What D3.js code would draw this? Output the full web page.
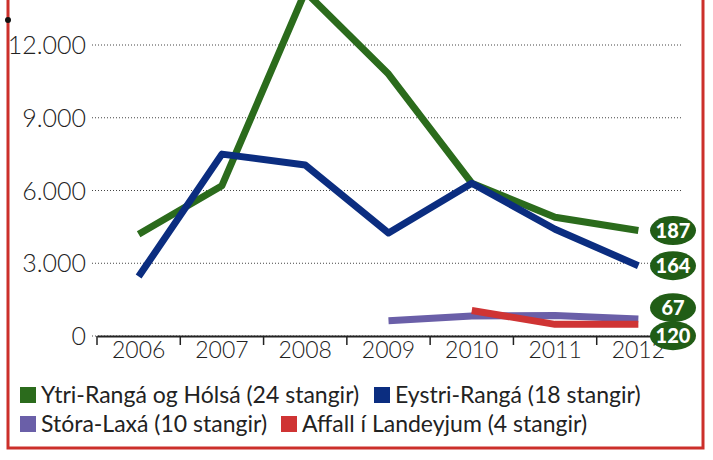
<!DOCTYPE html>
<html>
<head>
<meta charset="utf-8">
<script src="https://cdn.jsdelivr.net/npm/d3@7"></script>
<style>
  body { margin: 0; background: #fff; }
  .ytick { font-family: Lato, sans-serif; font-weight: 300; font-size: 25px; fill: #222; }
  .xtick { font-family: Lato, sans-serif; font-weight: 300; font-size: 23px; fill: #222; }
  .legend text { font-family: Lato, sans-serif; font-size: 23px; fill: #222; }
  .badge text { font-family: Lato, sans-serif; font-weight: 900; font-size: 20px; fill: #fff; }
</style>
</head>
<body>
<div id="chart"></div>
<script>
// years on the x axis
const years = [2006, 2007, 2008, 2009, 2010, 2011, 2012];
// y axis tick values
const yTicks = [0, 3000, 6000, 9000, 12000];

// catch per river (null = no data)
const ytriRanga   = [4200, 6200, 14200, 10800, 6300, 4900, 4350];
const eystriRanga = [2450, 7500, 7050, 4250, 6300, 4400, 2900];
const storaLaxa   = [null, null, null, 630, 820, 850, 700];
const affall      = [null, null, null, null, 1050, 480, 480];

const seriesNames = [
    "Ytri-Rangá og Hólsá (24 stangir)",
    "Eystri-Rangá (18 stangir)",
    "Stóra-Laxá (10 stangir)",
    "Affall í Landeyjum (4 stangir)"
];
const seriesColors = ["#2b6b1c", "#0b2d80", "#6a5fa8", "#cf3434"];
const badgeLabels = ["187", "164", "67", "120"];

const seriesValues = [ytriRanga, eystriRanga, storaLaxa, affall];

const W = 713, H = 460;

let svg = d3.select("#chart")
    .append("svg")
    .attr("width", W)
    .attr("height", H);

// red frame, top edge is cropped off
svg.append("rect")
    .attr("x", 8).attr("y", -20)
    .attr("width", 695).attr("height", 468)
    .attr("fill", "none")
    .attr("stroke", "#cc2f2a")
    .attr("stroke-width", 3);
svg.append("circle").attr("cx", 8).attr("cy", 20).attr("r", 3).attr("fill", "#111");

// scales
const x = d3.scaleBand().domain(years).range([97, 680]).padding(0);
const y = d3.scaleLinear().domain([0, 12000]).range([336, 45]);

// dotted gridlines
svg.append("g")
    .selectAll("line")
    .data(yTicks)
    .enter().append("line")
    .attr("x1", 92).attr("x2", 681)
    .attr("y1", d => y(d)).attr("y2", d => y(d))
    .attr("stroke", "#444")
    .attr("stroke-width", 1)
    .attr("stroke-dasharray", "1,2");

// y labels
svg.append("g")
    .selectAll("text")
    .data(yTicks)
    .enter().append("text")
    .attr("class", "ytick")
    .attr("x", 86)
    .attr("y", d => y(d) + 9)
    .attr("text-anchor", "end")
    .text(d => d3.format(",")(d).replace(/,/g, "."));

// x axis: labels centred in band, ticks at band edges
const xAxis = svg.append("g")
    .attr("transform", `translate(0, ${y(0)})`)
    .call(d3.axisBottom(x).tickSize(0).tickPadding(0));
xAxis.select(".domain").attr("stroke", "#222").attr("stroke-width", 2);
xAxis.selectAll(".tick text")
    .attr("class", "xtick")
    .attr("dy", 0)
    .attr("y", 22)
    .attr("font-size", null)
    .attr("font-family", null);
xAxis.selectAll(".edge")
    .data(years)
    .enter().append("line")
    .attr("x1", d => x(d)).attr("x2", d => x(d))
    .attr("y1", 0).attr("y2", 9)
    .attr("stroke", "#222")
    .attr("stroke-width", 1.5);

// lines
const line = d3.line()
    .defined(d => d.v != null)
    .x(d => x(d.year) + x.bandwidth() / 2)
    .y(d => y(d.v));

seriesValues.forEach((vals, i) => {
    let pts = years.map((yr, j) => ({ year: yr, v: vals[j] }));
    svg.append("path")
        .datum(pts)
        .attr("d", line)
        .attr("fill", "none")
        .attr("stroke", seriesColors[i])
        .attr("stroke-width", 7)
        .attr("stroke-linejoin", "round");
});

// end badges, pushed apart so they don't overlap
let badges = seriesValues.map((vals, i) => ({ label: badgeLabels[i], y: y(vals[vals.length - 1]) }));
let minGap = 28;
for (let k = 0; k < 20; k++) {
    for (let i = 1; i < badges.length; i++) {
        let gap = badges[i].y - badges[i - 1].y;
        if (gap < minGap) {
            let push = (minGap - gap) / 2;
            badges[i - 1].y -= push;
            badges[i].y += push;
        }
    }
}
let bg = svg.append("g").attr("class", "badge")
    .selectAll("g")
    .data(badges)
    .enter().append("g")
    .attr("transform", d => `translate(673, ${d.y})`);
bg.append("ellipse").attr("rx", 23).attr("ry", 14.5).attr("fill", "#215d16");
bg.append("text").attr("text-anchor", "middle").attr("y", 7).text(d => d.label);

// legend, two rows
const legendPos = [[20, 403], [374, 403], [20, 432], [281, 432]];
let lg = svg.append("g").attr("class", "legend")
    .selectAll("g")
    .data(seriesNames)
    .enter().append("g")
    .attr("transform", (d, i) => `translate(${legendPos[i][0]}, ${legendPos[i][1]})`);
lg.append("rect")
    .attr("x", 0).attr("y", -16)
    .attr("width", 16).attr("height", 16)
    .attr("fill", (d, i) => seriesColors[i]);
lg.append("text")
    .attr("x", 21)
    .attr("y", 0)
    .text(d => d);
</script>
</body>
</html>
